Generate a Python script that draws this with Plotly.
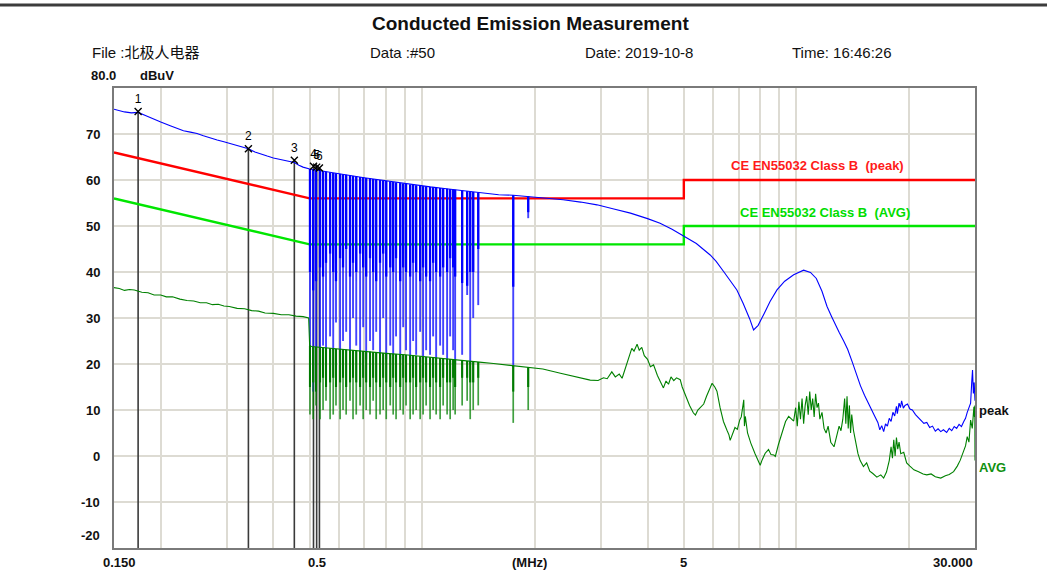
import numpy as np
import plotly.graph_objects as go

# ---------------- data (frequency in MHz, level in dBuV) ----------------
# EN55032 class B limit lines
limit_f = [0.15, 0.5, 5.0, 5.0, 30.0]
limit_peak = [66, 56, 56, 60, 60]
limit_avg = [56, 46, 46, 50, 50]

# Peak detector trace (envelope)
peak_f = [0.150, 0.155, 0.160, 0.167, 0.174, 0.182, 0.190, 0.200, 0.212, 0.222, 0.230, 0.240,
          0.250, 0.260, 0.271, 0.283, 0.295, 0.308, 0.320, 0.330, 0.343, 0.357, 0.370, 0.385,
          0.400, 0.415, 0.430, 0.440, 0.455, 0.468, 0.480, 0.500, 0.533, 0.570, 0.629, 0.700,
          0.771, 0.860, 0.947, 1.05, 1.16, 1.30, 1.43, 1.60, 1.75, 1.94, 2.10, 2.38, 2.65,
          2.93, 3.25, 3.60, 4.00, 4.32, 4.65, 5.00, 5.40, 5.88, 6.10, 6.40, 6.70, 6.93, 7.20,
          7.50, 7.68, 7.90, 8.20, 8.50, 8.87, 9.30, 9.83, 10.45, 10.9, 11.3, 11.7, 12.07, 12.4,
          12.7, 13.0, 13.37, 13.7, 14.1, 14.45, 14.82, 15.2, 15.6, 15.9, 16.2, 16.5, 16.7,
          16.9, 17.1, 17.3, 17.5, 17.7, 17.9, 18.1, 18.3, 18.5, 18.6, 18.8, 18.96, 19.1, 19.3,
          19.5, 19.8, 20.1, 20.4, 20.8, 21.2, 21.6, 21.9, 22.3, 22.7, 23.1, 23.5, 23.9, 24.3,
          24.7, 25.2, 25.6, 26.0, 26.4, 26.8, 27.2, 27.6, 28.0, 28.3, 28.6, 28.9, 29.2, 29.4,
          29.55, 29.7, 29.85, 30.0]
peak_v = [75.4, 75.1, 74.8, 74.6, 74.7, 74.0, 73.3, 72.6, 71.8, 71.2, 70.7, 70.4,
          70.1, 69.6, 69.1, 68.7, 68.3, 67.9, 67.4, 67.2, 66.8, 66.1, 65.6, 65.2,
          64.8, 64.5, 64.2, 64.1, 63.8, 63.2, 62.8, 62.4, 62.0, 61.6, 61.1, 60.5,
          60.0, 59.4, 58.9, 58.5, 58.1, 57.6, 57.2, 56.8, 56.7, 56.4, 56.2, 55.7, 55.2,
          54.6, 53.7, 52.8, 51.6, 50.6, 49.3, 47.8, 46.2, 43.7, 42.3, 40.0, 37.6, 36.1, 33.2,
          29.8, 27.4, 28.4, 31.0, 33.6, 36.1, 38.0, 39.4, 40.4, 39.9, 38.6, 35.8, 32.5, 30.4,
          28.8, 26.9, 25.0, 23.2, 20.4, 17.8, 15.3, 13.2, 11.2, 10.0, 8.6, 7.3, 5.7,
          6.6, 5.3, 7.0, 6.5, 8.2, 7.5, 9.5, 8.7, 10.8, 9.2, 11.5, 10.5, 12.0, 10.4,
          11.0, 11.3, 10.2, 10.0, 9.0, 8.3, 7.8, 7.1, 7.3, 6.2, 6.5, 5.4, 5.9, 5.3,
          5.7, 5.1, 6.0, 5.5, 6.4, 6.0, 6.9, 6.4, 7.5, 8.2, 9.5, 10.7, 11.5, 16.0,
          18.7, 13.6, 16.0, 12.0]

# Average detector trace (baseline)
avg_f = [0.150, 0.155, 0.160, 0.165, 0.170, 0.178, 0.185, 0.192, 0.200, 0.207, 0.215, 0.225,
         0.235, 0.245, 0.255, 0.265, 0.275, 0.285, 0.295, 0.305, 0.320, 0.335, 0.350, 0.365,
         0.380, 0.400, 0.420, 0.440, 0.460, 0.480, 0.497, 0.500, 0.505, 0.600, 0.700, 0.800,
         0.900, 1.00, 1.10, 1.20, 1.30, 1.42, 1.55, 1.75, 1.92, 2.10, 2.34, 2.50, 2.70, 2.81,
         2.95, 3.05, 3.12, 3.21, 3.28, 3.36, 3.42, 3.50, 3.58, 3.63, 3.68, 3.75, 3.80, 3.86,
         3.92, 4.00, 4.07, 4.15, 4.25, 4.33, 4.41, 4.48, 4.55, 4.62, 4.70, 4.78, 4.89, 4.95,
         5.05, 5.18, 5.30, 5.37, 5.45, 5.55, 5.65, 5.75, 5.85, 5.95, 6.05, 6.13, 6.25, 6.38,
         6.52, 6.60, 6.65, 6.75, 6.85, 6.95, 7.05, 7.12, 7.20, 7.23, 7.26, 7.30, 7.40, 7.55,
         7.75, 7.90, 8.00, 8.10, 8.25, 8.42, 8.55, 8.70, 8.78, 8.95, 9.15, 9.35, 9.53, 9.70,
         9.83, 9.95, 10.05, 10.15, 10.25, 10.35, 10.45, 10.55, 10.65, 10.75, 10.85, 10.95,
         11.05, 11.15, 11.25, 11.35, 11.45, 11.55, 11.70, 11.85, 12.0, 12.15, 12.35, 12.6,
         12.8, 13.0, 13.15, 13.3, 13.45, 13.55, 13.65, 13.75, 13.85, 13.95, 14.05, 14.2,
         14.4, 14.6, 14.8, 15.1, 15.4, 15.7, 16.0, 16.4, 16.8, 17.1, 17.4, 17.7, 17.9, 18.05,
         18.2, 18.35, 18.5, 18.65, 18.8, 19.0, 19.35, 19.7, 20.1, 20.6, 21.2, 21.8, 22.3,
         22.9, 23.5, 24.3, 25.0, 25.6, 26.3, 26.9, 27.4, 27.9, 28.3, 28.6, 28.9, 29.2, 29.5,
         29.8, 29.9, 29.97, 30.0]
avg_v = [36.6, 36.4, 36.0, 36.2, 36.1, 35.6, 35.5, 35.0, 35.0, 34.6, 34.6, 34.1,
         33.8, 33.7, 33.3, 33.3, 32.9, 33.0, 32.6, 32.5, 32.1, 32.0, 31.6, 31.5,
         31.1, 31.0, 30.7, 30.7, 30.4, 30.3, 30.0, 24.0, 23.8, 23.2, 22.8, 22.3,
         22.0, 21.6, 21.3, 21.0, 20.7, 20.4, 20.1, 19.6, 19.3, 18.9, 18.0, 17.5, 16.8, 16.5,
         16.4, 17.0, 16.8, 18.3, 17.2, 17.8, 16.9, 19.5, 22.0, 23.4, 22.8, 24.3, 23.0, 23.6,
         21.8, 21.0, 19.4, 19.8, 17.5, 16.2, 14.8, 16.3, 15.6, 17.2, 16.4, 17.0, 16.6, 15.0,
         13.2, 11.0, 9.4, 8.9, 10.0, 10.6, 11.3, 13.0, 14.6, 15.8, 15.0, 14.1, 10.5, 7.5,
         5.6, 4.6, 3.4, 5.0, 6.2, 5.8, 7.8, 8.5, 11.0, 12.2, 6.5, 8.6, 5.0, 2.8,
         0.5, -1.2, -2.0, -0.8, 0.6, 1.4, 0.3, 0.2, -0.1, 2.5, 5.0, 7.5, 8.6, 8.0,
         7.6, 10.5, 6.5, 11.8, 8.0, 12.5, 7.0, 11.0, 13.0, 9.0, 14.0, 10.0,
         12.5, 8.5, 13.5, 10.5, 11.5, 8.0, 9.5, 6.0, 5.0, 6.5, 3.0, 2.0,
         4.5, 6.5, 5.5, 8.0, 12.5, 7.0, 13.0, 6.0, 11.0, 5.0, 9.0, 5.6,
         3.0, 0.5, -1.0, -2.3, -1.5, -3.3, -3.8, -4.6, -4.1, -4.8, -3.5, -1.0, 2.0, -0.5,
         3.5, 0.0, 4.0, 1.5, 3.0, 0.5, 0.8, -1.5, -2.2, -3.0, -3.4, -3.9, -4.1,
         -3.9, -4.5, -4.8, -4.3, -4.0, -3.4, -2.2, -0.9, 1.0, 2.2, 4.2, 3.0, 7.8, 6.0,
         10.7, 8.5, 11.0, -1.0]

# Periodic comb of spikes between 0.5 MHz and 1.9 MHz
comb_f = [0.501, 0.511, 0.520, 0.533, 0.543, 0.553, 0.567, 0.578, 0.588, 0.603, 0.614, 0.626,
          0.641, 0.653, 0.666, 0.682, 0.695, 0.708, 0.725, 0.739, 0.753, 0.771, 0.786, 0.801,
          0.821, 0.836, 0.851, 0.873, 0.889, 0.905, 0.928, 0.945, 0.963, 0.987, 1.005, 1.024,
          1.049, 1.069, 1.089, 1.116, 1.137, 1.165, 1.187, 1.209, 1.224, 1.278, 1.318, 1.343,
          1.368, 1.411, 1.750, 1.919]
comb_peak_low = [17, 14, 18, 22, 24, 21, 26, 23, 29, 22, 25, 27, 21, 30, 24, 22, 28, 21, 25, 23,
                 27, 22, 30, 21, 24, 22, 26, 21, 28, 23, 21, 25, 22, 27, 21, 23, 22, 26, 21, 24,
                 22, 21, 26, 23, 20, 22, 35, 20, 30, 32.8, 19.3, 51.7]
comb_peak_mid = [40, 36, 38, 41, 39, 42, 44, 40, 38, 43, 41, 45, 39, 42, 40, 44, 41, 39, 43, 40,
                 38, 42, 44, 39, 41, 40, 43, 38, 41, 40, 39, 42, 40, 38, 41, 39, 38, 42, 40, 39,
                 41, 40, 43, 41, 39, 37.6, 37, 40, 40, 45, 36.8, 53]
comb_avg_low = [9, 8, 11, 8, 10, 12, 8, 9, 11, 8, 10, 9, 12, 8, 9, 11, 8, 10, 9, 12, 8, 9, 10, 8,
                11, 9, 8, 10, 9, 11, 8, 9, 10, 8, 9, 11, 8, 10, 9, 8, 11, 9, 8, 10, 9, 11, 12, 8,
                10, 11, 7.2, 10.0]
comb_avg_mid = [15, 16, 14, 16, 17, 15, 16, 17, 15, 16, 17, 15, 16, 17, 16, 15, 17, 16, 15, 17,
                16, 15, 17, 16, 15, 17, 16, 15, 17, 16, 16, 17, 15, 16, 17, 16, 15, 17, 16, 15,
                17, 16, 16, 17, 15, 17, 17, 16, 16, 17, 14, 15]

# Markers
marker_f = [0.174, 0.343, 0.455, 0.512, 0.522, 0.531]
marker_v = [74.9, 66.8, 64.3, 63.0, 62.8, 62.6]
marker_lbl = ["1", "2", "3", "4", "5", "6"]

# Axis ticks
grid_f = [0.2, 0.3, 0.4, 0.5, 0.6, 0.7, 0.8, 0.9, 1, 2, 3, 4, 5, 6, 7, 8, 9, 10, 20]
y_ticks = [70, 60, 50, 40, 30, 20, 10, 0, -10, -20]
x_labels = ["0.150", "0.5", "(MHz)", "5", "30.000"]

FONT = "Liberation Sans, Arial, Noto Sans CJK SC, sans-serif"

# ---------------- geometry helpers (page pixels -> paper) ----------------
L, R, T, B = 114, 975, 88, 548


def px(xp):
    return (xp - L) / (R - L)


def py(yp):
    return (B - yp) / (B - T)


def segments(fs, tops, lows):
    xs, ys = [], []
    for f, t, lo in zip(fs, tops, lows):
        xs += [f, f, None]
        ys += [t, lo, None]
    return xs, ys


lf = np.log10(peak_f)
comb_top_peak = np.interp(np.log10(comb_f), lf, peak_v)
comb_top_avg = np.interp(np.log10(comb_f), np.log10(avg_f), avg_v)

fig = go.Figure()

# marker vertical lines
mx, my = segments(marker_f, marker_v, [-20] * len(marker_f))
fig.add_trace(go.Scatter(x=mx, y=my, mode="lines", line=dict(color="#3a3a3a", width=1.6),
                         hoverinfo="skip"))

# limit lines
fig.add_trace(go.Scatter(x=limit_f, y=limit_peak, mode="lines",
                         line=dict(color="#ff0000", width=2.4)))
fig.add_trace(go.Scatter(x=limit_f, y=limit_avg, mode="lines",
                         line=dict(color="#00e600", width=2.4)))

# peak trace
cx, cy = segments(comb_f, comb_top_peak, comb_peak_low)
fig.add_trace(go.Scatter(x=cx, y=cy, mode="lines", line=dict(color="rgba(20,20,255,0.8)", width=1.9)))
cx, cy = segments(comb_f, comb_top_peak, comb_peak_mid)
fig.add_trace(go.Scatter(x=cx, y=cy, mode="lines", line=dict(color="#0000ff", width=2.3)))
fig.add_trace(go.Scatter(x=peak_f, y=peak_v, mode="lines", line=dict(color="#0000ff", width=1.1)))

# average trace
cx, cy = segments(comb_f, comb_top_avg, comb_avg_low)
fig.add_trace(go.Scatter(x=cx, y=cy, mode="lines", line=dict(color="rgba(0,128,0,0.75)", width=1.7)))
cx, cy = segments(comb_f, comb_top_avg, comb_avg_mid)
fig.add_trace(go.Scatter(x=cx, y=cy, mode="lines", line=dict(color="#007a00", width=2.1)))
fig.add_trace(go.Scatter(x=avg_f, y=avg_v, mode="lines", line=dict(color="#008000", width=1.1)))

# marker symbols and numbers
fig.add_trace(go.Scatter(x=marker_f, y=marker_v, mode="markers+text", text=marker_lbl,
                         textposition="top center",
                         textfont=dict(family=FONT, size=12, color="#000000"),
                         marker=dict(symbol="x-thin", size=7, line=dict(color="#000000", width=1.4))))

ann = []
# title and header
ann.append(dict(text="<b>Conducted Emission Measurement</b>", x=px(530), y=py(24),
                font=dict(size=19), xanchor="center", yanchor="middle"))
for txt, xp in [("File :北极人电器", 90), ("Data :#50", 368), ("Date: 2019-10-8", 583),
                ("Time: 16:46:26", 790)]:
    ann.append(dict(text=txt, x=px(xp), y=py(52), font=dict(size=15), xanchor="left",
                    yanchor="middle"))
ann.append(dict(text="<b>80.0</b>", x=px(89), y=py(76), font=dict(size=13), xanchor="left",
                yanchor="middle"))
ann.append(dict(text="<b>dBuV</b>", x=px(138), y=py(76), font=dict(size=13), xanchor="left",
                yanchor="middle"))
# y tick labels
for v in y_ticks:
    yv = v if v > -20 else -17.3
    ann.append(dict(text="<b>%d</b>" % v, x=px(102), y=yv, yref="y", font=dict(size=13),
                    xanchor="right", yanchor="middle"))
# x tick labels
for txt, xp in zip(x_labels, [119, 317, 529, 683, 953]):
    ann.append(dict(text="<b>%s</b>" % txt, x=px(xp), y=py(562), font=dict(size=13),
                    xanchor="center", yanchor="middle"))
# limit labels
ann.append(dict(text="<b>CE EN55032 Class B \u00a0(peak)</b>", x=px(817), y=py(165),
                font=dict(size=13, color="#ff1a1a"), xanchor="center", yanchor="middle"))
ann.append(dict(text="<b>CE EN55032 Class B \u00a0(AVG)</b>", x=px(825), y=py(212),
                font=dict(size=13, color="#00dd00"), xanchor="center", yanchor="middle"))
ann.append(dict(text="<b>peak</b>", x=px(977), y=9.8, yref="y", font=dict(size=13, color="#111111"),
                xanchor="left", yanchor="middle"))
ann.append(dict(text="<b>AVG</b>", x=px(977), y=-2.4, yref="y", font=dict(size=13, color="#109010"),
                xanchor="left", yanchor="middle"))
for a in ann:
    a.setdefault("xref", "paper")
    a.setdefault("yref", "paper")
    a["showarrow"] = False
    a["font"].setdefault("color", "#111111")
    a["font"]["family"] = FONT

fig.update_layout(
    width=1047, height=572,
    margin=dict(l=L, r=1047 - R, t=T, b=572 - B),
    paper_bgcolor="white", plot_bgcolor="white",
    showlegend=False,
    font=dict(family=FONT),
    annotations=ann,
    shapes=[dict(type="line", xref="paper", yref="paper", layer="above", x0=px(0), x1=px(1047),
                 y0=py(5), y1=py(5), line=dict(color="#3c3c3c", width=3))],
    xaxis=dict(type="log", range=[np.log10(0.15), np.log10(30)], tickvals=grid_f,
               showticklabels=False, ticks="", showgrid=True, gridcolor="#dddbd3", gridwidth=1.5,
               showline=True, linecolor="#7a7a7a", linewidth=2, mirror=True, zeroline=False),
    yaxis=dict(range=[-20, 80], tickvals=y_ticks[:-1], showticklabels=False, ticks="",
               showgrid=True, gridcolor="#dddbd3", gridwidth=1.5, showline=True,
               linecolor="#7a7a7a", linewidth=2, mirror=True, zeroline=False),
)

fig.write_html("out.html", config={"displayModeBar": False},
               post_script="document.body.style.margin='0';")
